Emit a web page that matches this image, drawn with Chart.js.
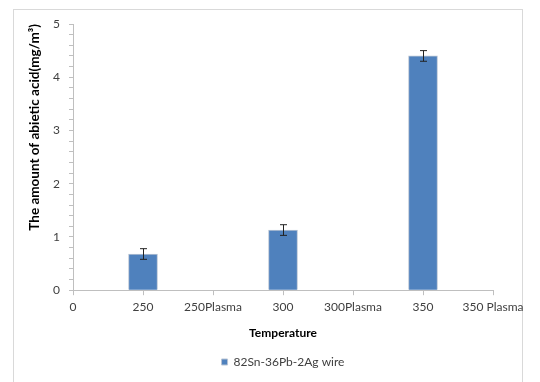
<!DOCTYPE html>
<html>
<head>
<meta charset="utf-8">
<script src="https://cdn.jsdelivr.net/npm/chart.js@4/dist/chart.umd.min.js"></script>
<style>
  body { margin: 0; background: #fff; }
  #frame {
    position: absolute; left: 13px; top: 9px;
    width: 508px; height: 400px;
    border: 1px solid #d9d9d9;
  }
  #chart { position: absolute; left: 0; top: 0; }
</style>
</head>
<body>
<div id="frame"></div>
<canvas id="chart" width="540" height="382"></canvas>
<script>
// categories on the x axis
const temperatures = ["0", "250", "250Plasma", "300", "300Plasma", "350", "350 Plasma"];
// abietic acid amount (mg/m3), only the plain wire points have bars
const abieticAcid = [null, 0.68, null, 1.13, null, 4.4, null];
const errors = [null, 0.1, null, 0.1, null, 0.1, null];
const yTicks = [0, 1, 2, 3, 4, 5];

const seriesName = "82Sn-36Pb-2Ag wire";
const fontFamily = "Lato, 'Liberation Sans', sans-serif";

// draw the error bars on top of the bars
const errorBars = {
  id: "errorBars",
  afterDatasetsDraw(chart) {
    const ctx = chart.ctx;
    const meta = chart.getDatasetMeta(0);
    const yScale = chart.scales.y;
    ctx.save();
    ctx.strokeStyle = "#222";
    ctx.lineWidth = 1;
    meta.data.forEach(function (bar, i) {
      if (abieticAcid[i] == null || errors[i] == null) return;
      var x = Math.round(bar.x) + 0.5;
      var top = yScale.getPixelForValue(abieticAcid[i] + errors[i]);
      var bottom = yScale.getPixelForValue(abieticAcid[i] - errors[i]);
      ctx.beginPath();
      ctx.moveTo(x, top);
      ctx.lineTo(x, bottom);
      ctx.moveTo(x - 3.5, top);
      ctx.lineTo(x + 3.5, top);
      ctx.moveTo(x - 3.5, bottom);
      ctx.lineTo(x + 3.5, bottom);
      ctx.stroke();
    });
    ctx.restore();
  },
};

new Chart(document.getElementById("chart"), {
  type: "bar",
  data: {
    labels: temperatures,
    datasets: [
      {
        label: seriesName,
        data: abieticAcid,
        backgroundColor: "#4f81bd",
        borderColor: "#b8c4d4",
        borderWidth: 1,
        barThickness: 29,
      },
    ],
  },
  options: {
    responsive: false,
    animation: false,
    layout: { padding: { left: 20, right: 47, top: 24, bottom: 4 } },
    plugins: {
      tooltip: { enabled: false },
      legend: {
        position: "bottom",
        fullSize: false,
        labels: {
          boxWidth: 6,
          boxHeight: 6,
          padding: 10,
          color: "#404040",
          font: { family: fontFamily, size: 12 },
        },
      },
    },
    scales: {
      x: {
        offset: false,
        grid: {
          offset: false,
          drawOnChartArea: false,
          color: "#bfbfbf",
          tickLength: 5,
        },
        border: { color: "#bfbfbf" },
        ticks: {
          autoSkip: false,
          maxRotation: 0,
          padding: 5,
          color: "#404040",
          font: { family: fontFamily, size: 12 },
        },
        title: {
          display: true,
          text: "Temperature",
          color: "#000",
          padding: { top: 6, bottom: 6 },
          font: { family: fontFamily, size: 12, weight: "bold" },
        },
      },
      y: {
        min: yTicks[0],
        max: yTicks[yTicks.length - 1],
        afterFit: function (scale) {
          scale.width = 53;
        },
        grid: {
          drawOnChartArea: false,
          color: "#bfbfbf",
          tickLength: 4,
        },
        border: { color: "#bfbfbf" },
        ticks: {
          stepSize: 0.2,
          autoSkip: false,
          padding: 9,
          color: "#404040",
          font: { family: fontFamily, size: 12 },
          callback: function (value) {
            var r = Math.round(value);
            return Math.abs(value - r) < 1e-6 && yTicks.includes(r) ? String(r) : "";
          },
        },
        title: {
          display: true,
          text: "The amount of abietic acid(mg/m³)",
          align: "end",
          color: "#000",
          padding: { top: 7, bottom: 0 },
          font: { family: fontFamily, size: 13.5, weight: "bold" },
        },
      },
    },
  },
  plugins: [errorBars],
});
</script>
</body>
</html>
